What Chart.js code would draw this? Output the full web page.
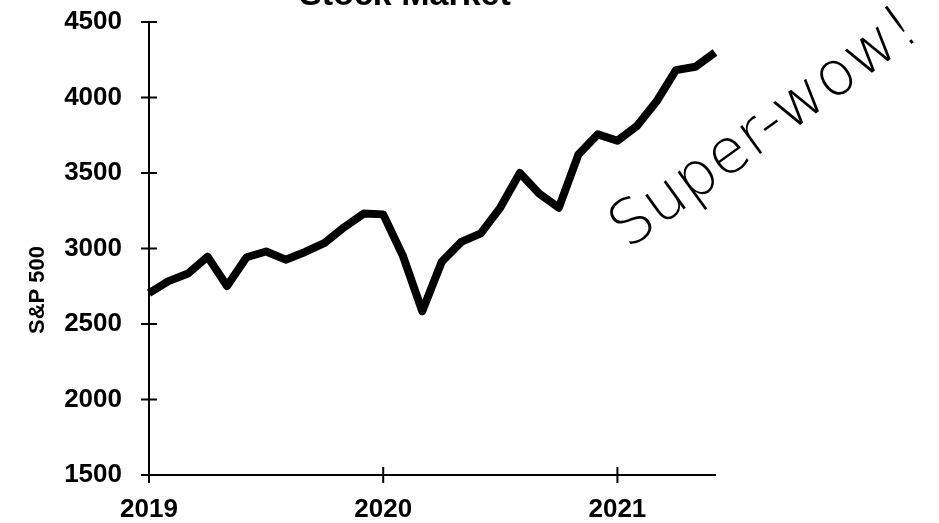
<!DOCTYPE html>
<html>
<head>
<meta charset="utf-8">
<script src="https://cdn.jsdelivr.net/npm/chart.js@4.4.1/dist/chart.umd.min.js"></script>
<style>
  html, body { margin: 0; padding: 0; background: #fff; }
  #wrap { width: 939px; height: 523px; position: relative; }
</style>
</head>
<body>
<div id="wrap"><canvas id="chart"></canvas></div>
<script>
// monthly points, Jan 2019 .. Jun 2021
const months = [
  "2019-01", "2019-02", "2019-03", "2019-04", "2019-05", "2019-06",
  "2019-07", "2019-08", "2019-09", "2019-10", "2019-11", "2019-12",
  "2020-01", "2020-02", "2020-03", "2020-04", "2020-05", "2020-06",
  "2020-07", "2020-08", "2020-09", "2020-10", "2020-11", "2020-12",
  "2021-01", "2021-02", "2021-03", "2021-04", "2021-05", "2021-06"
];
const sp500 = [
  2704, 2784, 2834, 2946, 2752, 2942, 2980, 2926, 2977, 3038, 3141, 3231,
  3226, 2954, 2585, 2912, 3044, 3100, 3271, 3500, 3363, 3270, 3622, 3756,
  3714, 3811, 3973, 4181, 4204, 4298
];
const yearTicks = ["2019", "2020", "2021"];
const yTicks = [1500, 2000, 2500, 3000, 3500, 4000, 4500];

const titleText = "Stock Market";
const yTitle = "S&P 500";
const note = "Super-wow!";

const FONT = "'Liberation Sans', Arial, sans-serif";

// ticks that cross the axis lines, plus the texts placed by hand
const extras = {
  id: "extras",
  afterDraw(chart) {
    const ctx = chart.ctx;
    const xs = chart.scales.x, ys = chart.scales.y;
    const a = chart.chartArea;
    ctx.save();
    ctx.strokeStyle = "#000";
    ctx.lineWidth = 2;
    yTicks.forEach((v) => {
      const y = ys.getPixelForValue(v);
      ctx.beginPath();
      ctx.moveTo(a.left - 8, y);
      ctx.lineTo(a.left + 8, y);
      ctx.stroke();
    });
    yearTicks.forEach((_, i) => {
      const x = xs.getPixelForValue(i * 12);
      ctx.beginPath();
      ctx.moveTo(x, a.bottom - 8);
      ctx.lineTo(x, a.bottom + 8);
      ctx.stroke();
    });

    ctx.fillStyle = "#000";
    ctx.font = "bold 34px " + FONT;
    ctx.textAlign = "center";
    ctx.textBaseline = "alphabetic";
    ctx.fillText(titleText, 405, 5);

    ctx.save();
    ctx.translate(38, 290);
    ctx.rotate(-Math.PI / 2);
    ctx.font = "bold 22px " + FONT;
    ctx.textBaseline = "middle";
    ctx.fillText(yTitle, 0, 0);
    ctx.restore();

    // handwritten remark
    ctx.save();
    ctx.translate(628, 250);
    ctx.rotate(-36 * Math.PI / 180);
    ctx.font = "300 62px 'DejaVu Sans'";
    ctx.textAlign = "left";
    ctx.fillText(note, 0, 0);
    ctx.restore();
    ctx.restore();
  },
};

new Chart(document.getElementById("chart"), {
  type: "line",
  data: {
    labels: months,
    datasets: [
      {
        data: sp500,
        borderColor: "#000",
        borderWidth: 8,
        borderJoinStyle: "round",
        pointRadius: 0,
        tension: 0,
        fill: false,
      },
    ],
  },
  options: {
    responsive: true,
    maintainAspectRatio: false,
    animation: false,
    layout: { padding: { left: 0, right: 224, top: 22, bottom: 0 } },
    plugins: {
      legend: { display: false },
      tooltip: { enabled: false },
    },
    scales: {
      x: {
        type: "category",
        offset: false,
        grid: { display: false, drawTicks: false },
        border: { display: true, color: "#000", width: 2 },
        afterFit: (s) => { s.height = 48; s.paddingLeft = 0; s.paddingRight = 0; },
        ticks: {
          autoSkip: false,
          maxRotation: 0,
          padding: 19,
          color: "#000",
          font: { family: FONT, size: 26, weight: "bold" },
          callback: (v, i) => (i % 12 === 0 ? yearTicks[i / 12] : ""),
        },
      },
      y: {
        min: 1500,
        max: 4500,
        grid: { display: false, drawTicks: false },
        border: { display: true, color: "#000", width: 2 },
        afterFit: (s) => { s.width = 149; s.paddingTop = 0; s.paddingBottom = 0; },
        ticks: {
          stepSize: 500,
          padding: 27,
          color: "#000",
          font: { family: FONT, size: 26, weight: "bold" },
          callback: (v) => String(v),
        },
      },
    },
  },
  plugins: [extras],
});
</script>
</body>
</html>
